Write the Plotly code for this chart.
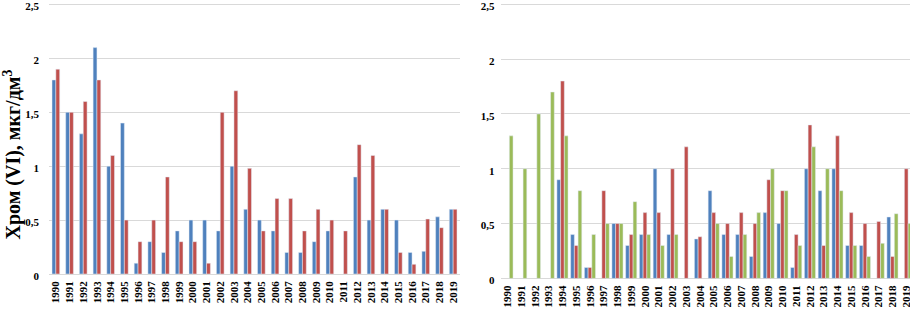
import plotly.graph_objects as go

years = [str(y) for y in range(1990, 2020)]

left_blue = [1.8, 1.5, 1.3, 2.1, 1.0, 1.4, 0.1, 0.3, 0.2, 0.4, 0.5, 0.5, 0.4, 1.0, 0.6,
             0.5, 0.4, 0.2, 0.2, 0.3, 0.4, None, 0.9, 0.5, 0.6, 0.5, 0.2, 0.21, 0.53, 0.6]
left_red = [1.9, 1.5, 1.6, 1.8, 1.1, 0.5, 0.3, 0.5, 0.9, 0.3, 0.3, 0.1, 1.5, 1.7, 0.98,
            0.4, 0.7, 0.7, 0.4, 0.6, 0.5, 0.4, 1.2, 1.1, 0.6, 0.2, 0.09, 0.51, 0.43, 0.6]

right_blue = [None, None, None, None, 0.9, 0.4, 0.1, None, 0.5, 0.3, 0.4, 1.0, 0.4, None, 0.36,
              0.8, 0.4, 0.4, 0.2, 0.6, 0.5, 0.1, 1.0, 0.8, 1.0, 0.3, 0.3, None, 0.56, None]
right_red = [None, None, None, None, 1.8, 0.3, 0.1, 0.8, 0.5, 0.4, 0.6, 0.6, 1.0, 1.2, 0.38,
             0.6, 0.5, 0.6, 0.5, 0.9, 0.8, 0.4, 1.4, 0.3, 1.3, 0.6, 0.5, 0.52, 0.2, 1.0]
right_green = [1.3, 1.0, 1.5, 1.7, 1.3, 0.8, 0.4, 0.5, 0.5, 0.7, 0.4, 0.3, 0.4, None, None,
               0.5, 0.2, 0.4, 0.6, 1.0, 0.8, 0.3, 1.2, 1.0, 0.8, 0.3, 0.2, 0.32, 0.59, 0.5]

y_ticks = [0, 0.5, 1, 1.5, 2, 2.5]
y_title = "Хром (VI), мкг/дм<sup>3</sup>"

BLUE = "#4F81BD"
RED = "#C0504D"
GREEN = "#9BBB59"
FONT = "Liberation Serif, Times New Roman, serif"
W, H = 910, 317

fig = go.Figure()
bw_l = 0.28
fig.add_bar(x=years, y=left_blue, marker_color=BLUE, width=bw_l, offset=-bw_l,
            xaxis="x", yaxis="y", showlegend=False)
fig.add_bar(x=years, y=left_red, marker_color=RED, width=bw_l, offset=0,
            xaxis="x", yaxis="y", showlegend=False)
bw_r = 0.27
fig.add_bar(x=years, y=right_blue, marker_color=BLUE, width=bw_r, offset=-1.5 * bw_r,
            xaxis="x2", yaxis="y2", showlegend=False)
fig.add_bar(x=years, y=right_red, marker_color=RED, width=bw_r, offset=-0.5 * bw_r,
            xaxis="x2", yaxis="y2", showlegend=False)
fig.add_bar(x=years, y=right_green, marker_color=GREEN, width=bw_r, offset=0.5 * bw_r,
            xaxis="x2", yaxis="y2", showlegend=False)

tickfont = dict(family=FONT, size=11, color="#000000", weight="bold")
grid = "#D9D9D9"
YMAX = 2.52

xcommon = dict(type="category", tickangle=-90, tickfont=tickfont, showgrid=False,
               showline=False, ticks="", ticklabelstandoff=4, automargin=False,
               ticklabeloverflow="allow")
ycommon = dict(range=[0, YMAX], tickvals=y_ticks, tickfont=tickfont, showgrid=True,
               gridcolor=grid, gridwidth=1, zeroline=True, zerolinecolor=grid,
               zerolinewidth=1, showline=False, ticks="", automargin=False,
               ticklabeloverflow="allow", ticklabelshift=2)

# pixel layout (page pixels, top-left origin)
l_x0, l_x1 = 49, 460
r_x0 = 500.6
r_cat = 13.75
l_y0, l_y25 = 274, 4.5
r_y0, r_y25 = 278.4, 4.3


def ydom(y0, y25):
    ppu = (y0 - y25) / 2.5
    top = y0 - ppu * YMAX
    return [1 - y0 / H, 1 - top / H]


fig.update_layout(
    width=W, height=H,
    margin=dict(l=0, r=0, t=0, b=0),
    plot_bgcolor="white", paper_bgcolor="white",
    separators=", ",
    barmode="overlay",
    hovermode=False,
    xaxis=dict(domain=[l_x0 / W, l_x1 / W], anchor="y", range=[-0.5, 29.5], **xcommon),
    yaxis=dict(domain=ydom(l_y0, l_y25), anchor="x", ticklabelstandoff=9, **ycommon),
    xaxis2=dict(domain=[r_x0 / W, 1.0], anchor="y2",
                range=[-0.5, -0.5 + (W - r_x0) / r_cat], **xcommon),
    yaxis2=dict(domain=ydom(r_y0, r_y25), anchor="x2", ticklabelstandoff=5, **ycommon),
    annotations=[dict(text=y_title, textangle=-90, x=11.5 / W, y=1 - 155 / H,
                      xref="paper", yref="paper", showarrow=False,
                      xanchor="center", yanchor="middle",
                      font=dict(family=FONT, size=20, color="#000000", weight="bold"))],
)

fig.write_html("out.html",
               config={"displayModeBar": False},
               post_script="document.body.style.margin='0';document.body.style.overflow='hidden';")
